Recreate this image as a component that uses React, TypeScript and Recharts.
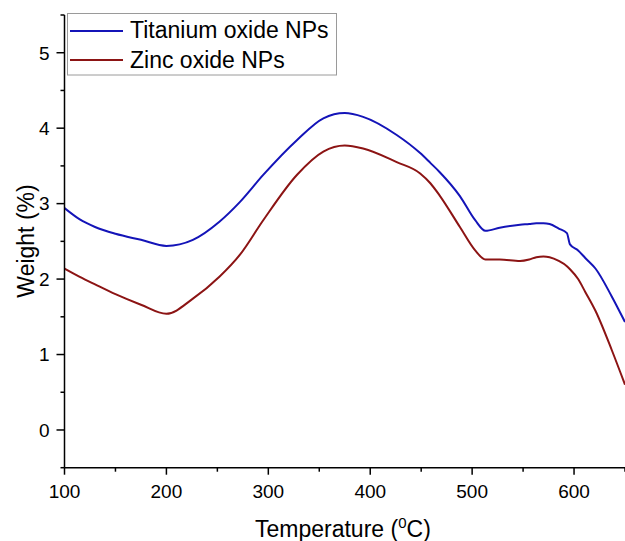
import React from 'react';
import { LineChart, Line, XAxis, YAxis, Legend, Label } from 'recharts';

const temperatures = [100, 115, 130, 150, 175, 200, 226, 252, 272, 295, 328, 354, 375, 393, 426, 449, 459, 468, 488, 503, 513, 527, 547, 556, 563, 570, 576, 585, 593, 596, 604, 611, 621, 637, 650];
const titaniumWeight = [2.94, 2.79, 2.69, 2.60, 2.52, 2.44, 2.52, 2.76, 3.02, 3.38, 3.84, 4.13, 4.20, 4.15, 3.91, 3.67, 3.54, 3.42, 3.10, 2.78, 2.64, 2.68, 2.72, 2.73, 2.74, 2.74, 2.73, 2.67, 2.61, 2.46, 2.38, 2.28, 2.14, 1.77, 1.43];
const zincWeight = [2.14, 2.03, 1.93, 1.80, 1.66, 1.54, 1.74, 2.03, 2.32, 2.78, 3.38, 3.69, 3.77, 3.73, 3.55, 3.40, 3.27, 3.11, 2.69, 2.38, 2.26, 2.26, 2.24, 2.26, 2.29, 2.30, 2.29, 2.24, 2.17, 2.13, 2.00, 1.83, 1.58, 1.06, 0.60];

const xTicks = [100, 150, 200, 250, 300, 350, 400, 450, 500, 550, 600, 650];
const yTicks = [-0.5, 0, 0.5, 1, 1.5, 2, 2.5, 3, 3.5, 4, 4.5, 5, 5.5];

const seriesNames = ['Titanium oxide NPs', 'Zinc oxide NPs'];
const seriesColors = ['#1414b8', '#8c1414'];

const FONT = '"Liberation Sans", Arial, sans-serif';

const data = temperatures.map((t, i) => ({ x: t, ti: titaniumWeight[i], zn: zincWeight[i] }));

const XTick = (props: any) => {
  const { x, y, payload } = props;
  const v = payload.value;
  const major = v % 100 === 0;
  return (
    <g>
      <line x1={x} y1={y} x2={x} y2={y + (major ? 7 : 4)} stroke="#000" strokeWidth={1.5} />
      {major && v < 650 && (
        <text x={x} y={y + 30.5} textAnchor="middle" fontSize={19} fontFamily={FONT} fill="#000">
          {v}
        </text>
      )}
    </g>
  );
};

const YTick = (props: any) => {
  const { x, y, payload } = props;
  const v = payload.value;
  const major = Number.isInteger(v);
  return (
    <g>
      <line x1={x - (major ? 8 : 4)} y1={y} x2={x} y2={y} stroke="#000" strokeWidth={1.5} />
      {major && (
        <text x={x - 15} y={y + 6.8} textAnchor="end" fontSize={19} fontFamily={FONT} fill="#000">
          {v}
        </text>
      )}
    </g>
  );
};

const LegendBox = () => (
  <svg width={271} height={63} style={{ display: 'block' }}>
    <rect x={0.5} y={0.5} width={269} height={61.5} fill="#fff" stroke="#9a9a9a" strokeWidth={1} />
    {seriesNames.map((n, i) => (
      <g key={n}>
        <line x1={3} x2={56} y1={18 + i * 29} y2={18 + i * 29} stroke={seriesColors[i]} strokeWidth={2} />
        <text x={63} y={25 + i * 30} fontSize={23} fontFamily={FONT} fill="#000">
          {n}
        </text>
      </g>
    ))}
  </svg>
);

export default function App() {
  return (
    <div style={{ position: 'absolute', left: 0, top: 0, width: 625, height: 541, background: '#fff' }}>
      <LineChart
        width={625}
        height={541}
        data={data}
        margin={{ top: 15, right: 0, bottom: 33.3, left: 24.5 }}
      >
        <XAxis
          dataKey="x"
          type="number"
          domain={[100, 650]}
          ticks={xTicks}
          interval={0}
          allowDataOverflow
          height={40}
          tickSize={0}
          tickMargin={0}
          tickLine={false}
          axisLine={{ stroke: '#000', strokeWidth: 1.5 }}
          tick={<XTick />}
        >
          <Label
            content={() => (
              <text x={255} y={537} fontSize={23} fontFamily={FONT} fill="#000">
                Temperature (
                <tspan fontSize={15} dy={-9}>0</tspan>
                <tspan dy={9}>C)</tspan>
              </text>
            )}
          />
        </XAxis>
        <YAxis
          type="number"
          domain={[-0.5, 5.5]}
          ticks={yTicks}
          interval={0}
          allowDataOverflow
          width={40}
          tickSize={0}
          tickMargin={0}
          tickLine={false}
          axisLine={{ stroke: '#000', strokeWidth: 1.5 }}
          tick={<YTick />}
        >
          <Label
            content={() => (
              <text
                x={34}
                y={241}
                transform="rotate(-90 34 241)"
                textAnchor="middle"
                fontSize={23}
                fontFamily={FONT}
                fill="#000"
              >
                Weight (%)
              </text>
            )}
          />
        </YAxis>
        <Legend
          layout="vertical"
          align="center"
          verticalAlign="middle"
          wrapperStyle={{ left: 67, top: 13, width: 271, height: 63 }}
          content={() => <LegendBox />}
        />
        <Line
          type="monotone"
          dataKey="ti"
          name={seriesNames[0]}
          stroke={seriesColors[0]}
          strokeWidth={2}
          dot={false}
          activeDot={false}
          isAnimationActive={false}
        />
        <Line
          type="monotone"
          dataKey="zn"
          name={seriesNames[1]}
          stroke={seriesColors[1]}
          strokeWidth={2}
          dot={false}
          activeDot={false}
          isAnimationActive={false}
        />
      </LineChart>
    </div>
  );
}
